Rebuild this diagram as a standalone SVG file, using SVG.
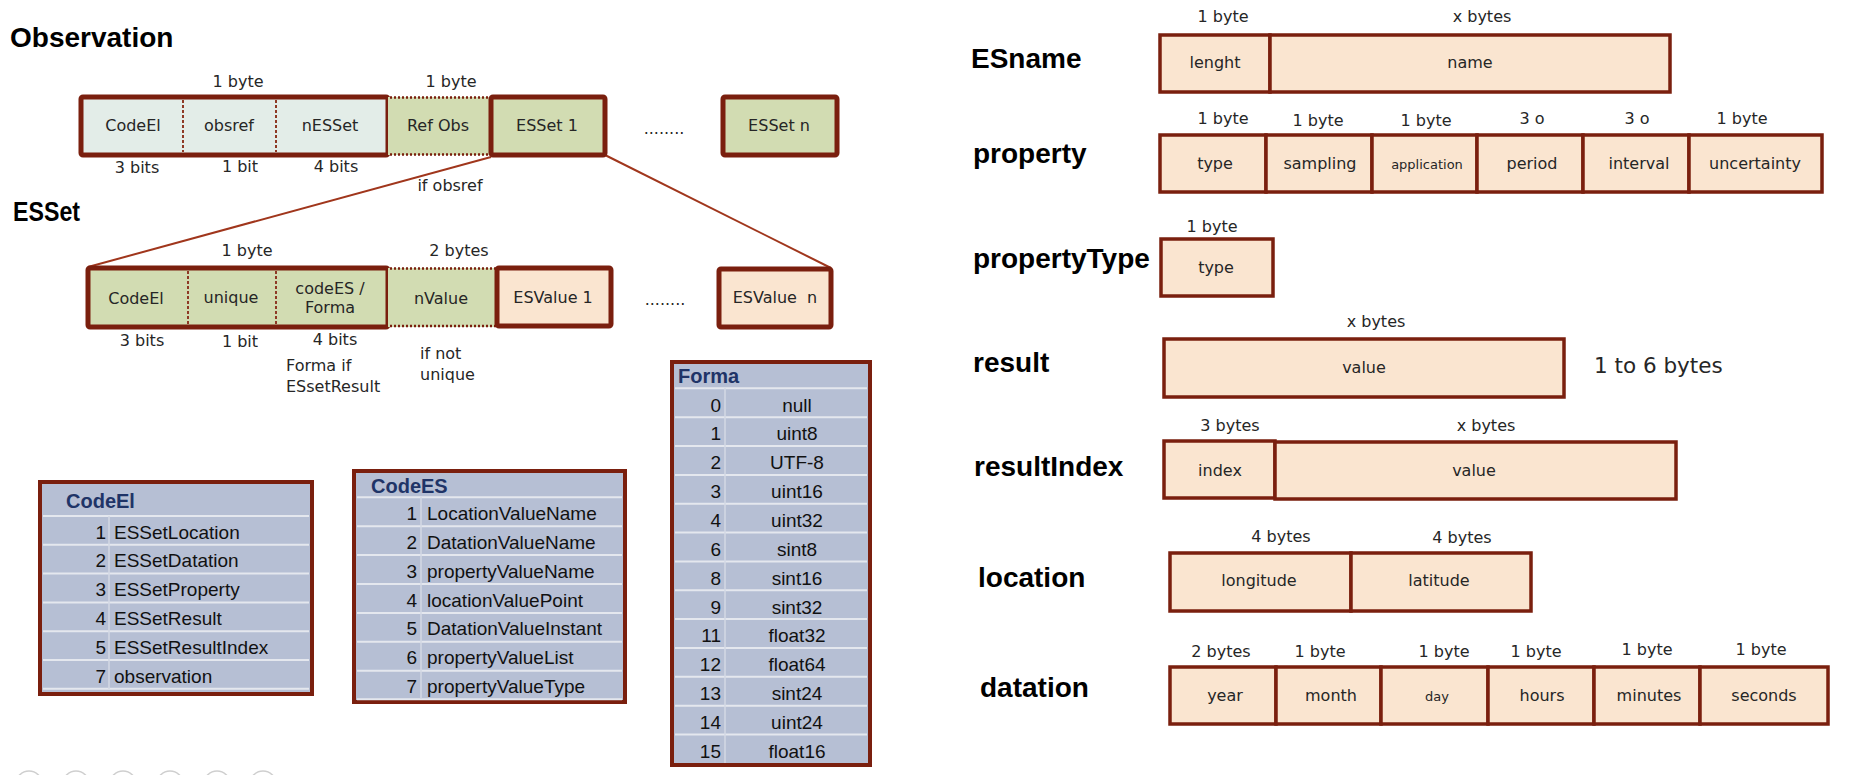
<svg xmlns="http://www.w3.org/2000/svg" width="1854" height="775" viewBox="0 0 1854 775">
<style>
  .t{font-family:"DejaVu Sans","Liberation Sans",sans-serif;font-size:16px;fill:#262626;text-anchor:middle}
  .ts{font-size:13px}
  .tl{text-anchor:start}
  .h{font-family:"Liberation Sans",Arial,sans-serif;font-weight:bold;font-size:28px;fill:#000}
  .thick{stroke:#7A1F0E;stroke-width:5;stroke-linejoin:round}
  .thin{stroke:#7A1F0E;stroke-width:3.5}
  .green{fill:#D2DCB2}
  .light{fill:#E3EDE8}
  .peach{fill:#FAE5D0}
  .dash{stroke:#8E3A26;stroke-width:2;stroke-dasharray:3 2}
  .dot{stroke:#7A1F0E;stroke-width:2.5;stroke-dasharray:2 2}
  .tab{fill:#B6BFD4;stroke:#7A1F0E;stroke-width:4}
  .rl{stroke:#E4E7EE;stroke-width:2}
  .cl{stroke:#D3D8E4;stroke-width:1.5}
  .tx{font-family:"Liberation Sans",Arial,sans-serif;font-size:19px;fill:#111}
  .num{text-anchor:end}
  .val{text-anchor:middle}
  .th{font-family:"Liberation Sans",Arial,sans-serif;font-size:20px;font-weight:bold;fill:#1F3467}
  .conn{stroke:#A0361C;stroke-width:2;fill:none}
  .nav{fill:#fff;stroke:#CFCFCF;stroke-width:1.5}
</style>

<!-- Titles -->
<g id="titles">
  <text class="h" x="10" y="47">Observation</text>
  <text class="h" x="13" y="221" textLength="67" lengthAdjust="spacingAndGlyphs">ESSet</text>
  <text class="h" x="971" y="68">ESname</text>
  <text class="h" x="973" y="163">property</text>
  <text class="h" x="973" y="268">propertyType</text>
  <text class="h" x="973" y="372">result</text>
  <text class="h" x="974" y="476">resultIndex</text>
  <text class="h" x="978" y="587">location</text>
  <text class="h" x="980" y="697">datation</text>
</g>

<!-- Connectors -->
<g id="connectors">
  <line class="conn" x1="491" y1="157" x2="88" y2="267"/>
  <line class="conn" x1="605" y1="155" x2="831" y2="268"/>
</g>

<!-- Observation row -->
<g id="obs-header">
  <rect class="light thick" x="81" y="97" width="307" height="58" rx="2"/>
  <line class="dash" x1="183" y1="100" x2="183" y2="152"/>
  <line class="dash" x1="276" y1="100" x2="276" y2="152"/>
  <text class="t" x="238" y="87">1 byte</text>
  <text class="t" x="133" y="131">CodeEl</text>
  <text class="t" x="229" y="131">obsref</text>
  <text class="t" x="330" y="131">nESSet</text>
  <text class="t" x="137" y="173">3 bits</text>
  <text class="t" x="240" y="172">1 bit</text>
  <text class="t" x="336" y="172">4 bits</text>
</g>
<g id="obs-refobs">
  <rect class="green" x="388" y="97" width="103" height="58"/>
  <line class="dot" x1="390" y1="97.5" x2="491" y2="97.5"/>
  <line class="dot" x1="390" y1="154.5" x2="491" y2="154.5"/>
  <text class="t" x="451" y="87">1 byte</text>
  <text class="t" x="438" y="131">Ref Obs</text>
  <text class="t" x="450" y="191">if obsref</text>
</g>
<g id="obs-esset1">
  <rect class="green thick" x="491" y="97" width="114" height="58" rx="2"/>
  <text class="t" x="547" y="131">ESSet 1</text>
</g>
<g id="obs-dots"><text class="t" x="664" y="134">........</text></g>
<g id="obs-essetn">
  <rect class="green thick" x="723" y="97" width="114" height="58" rx="2"/>
  <text class="t" x="779" y="131">ESSet n</text>
</g>

<!-- ESSet row -->
<g id="esset-header">
  <rect class="green thick" x="88" y="268" width="300" height="59" rx="2"/>
  <line class="dash" x1="188" y1="271" x2="188" y2="324"/>
  <line class="dash" x1="276" y1="271" x2="276" y2="324"/>
  <text class="t" x="247" y="256">1 byte</text>
  <text class="t" x="136" y="304">CodeEl</text>
  <text class="t" x="231" y="303">unique</text>
  <text class="t" x="330" y="294">codeES /</text>
  <text class="t" x="330" y="313">Forma</text>
  <text class="t" x="142" y="346">3 bits</text>
  <text class="t" x="240" y="347">1 bit</text>
  <text class="t" x="335" y="345">4 bits</text>
  <text class="t tl" x="286" y="371">Forma if</text>
  <text class="t tl" x="286" y="392">ESsetResult</text>
</g>
<g id="esset-nvalue">
  <rect class="green" x="388" y="268" width="109" height="59"/>
  <line class="dot" x1="390" y1="268.5" x2="497" y2="268.5"/>
  <line class="dot" x1="390" y1="326" x2="497" y2="326"/>
  <text class="t" x="459" y="256">2 bytes</text>
  <text class="t" x="441" y="304">nValue</text>
  <text class="t tl" x="420" y="359">if not</text>
  <text class="t tl" x="420" y="380">unique</text>
</g>
<g id="esset-esvalue1">
  <rect class="peach thick" x="497" y="268" width="114" height="58" rx="2"/>
  <text class="t" x="553" y="303">ESValue 1</text>
</g>
<g id="esset-dots"><text class="t" x="665" y="305">........</text></g>
<g id="esset-esvaluen">
  <rect class="peach thick" x="719" y="269" width="112" height="58" rx="2"/>
  <text class="t" x="775" y="303" xml:space="preserve">ESValue  n</text>
</g>

<!-- CodeEl table -->
<g id="table-codeel">
  <rect class="tab" x="40" y="482" width="272" height="212"/>
  <g class="rl">
    <line x1="43" y1="516" x2="309" y2="516"/>
    <line x1="43" y1="544.8" x2="309" y2="544.8"/>
    <line x1="43" y1="573.6" x2="309" y2="573.6"/>
    <line x1="43" y1="602.4" x2="309" y2="602.4"/>
    <line x1="43" y1="631.2" x2="309" y2="631.2"/>
    <line x1="43" y1="660" x2="309" y2="660"/>
    <line x1="43" y1="688.8" x2="309" y2="688.8"/>
  </g>
  <line class="cl" x1="109" y1="516" x2="109" y2="689"/>
  <text class="th" x="66" y="508">CodeEl</text>
  <g class="tx">
    <text class="num" x="106" y="538.5">1</text><text x="114" y="538.5">ESSetLocation</text>
    <text class="num" x="106" y="567.3">2</text><text x="114" y="567.3">ESSetDatation</text>
    <text class="num" x="106" y="596.1">3</text><text x="114" y="596.1">ESSetProperty</text>
    <text class="num" x="106" y="624.9">4</text><text x="114" y="624.9">ESSetResult</text>
    <text class="num" x="106" y="653.7">5</text><text x="114" y="653.7">ESSetResultIndex</text>
    <text class="num" x="106" y="682.5">7</text><text x="114" y="682.5">observation</text>
  </g>
</g>

<!-- CodeES table -->
<g id="table-codees">
  <rect class="tab" x="354" y="471" width="271" height="231"/>
  <g class="rl">
    <line x1="357" y1="497.3" x2="622" y2="497.3"/>
    <line x1="357" y1="526.2" x2="622" y2="526.2"/>
    <line x1="357" y1="555.1" x2="622" y2="555.1"/>
    <line x1="357" y1="584" x2="622" y2="584"/>
    <line x1="357" y1="612.9" x2="622" y2="612.9"/>
    <line x1="357" y1="641.8" x2="622" y2="641.8"/>
    <line x1="357" y1="670.7" x2="622" y2="670.7"/>
    <line x1="357" y1="699.3" x2="622" y2="699.3"/>
  </g>
  <line class="cl" x1="421" y1="497" x2="421" y2="699"/>
  <text class="th" x="371" y="493">CodeES</text>
  <g class="tx">
    <text class="num" x="417" y="519.8">1</text><text x="427" y="519.8">LocationValueName</text>
    <text class="num" x="417" y="548.7">2</text><text x="427" y="548.7">DatationValueName</text>
    <text class="num" x="417" y="577.6">3</text><text x="427" y="577.6">propertyValueName</text>
    <text class="num" x="417" y="606.5">4</text><text x="427" y="606.5">locationValuePoint</text>
    <text class="num" x="417" y="635.4">5</text><text x="427" y="635.4">DatationValueInstant</text>
    <text class="num" x="417" y="664.3">6</text><text x="427" y="664.3">propertyValueList</text>
    <text class="num" x="417" y="693.2">7</text><text x="427" y="693.2">propertyValueType</text>
  </g>
</g>

<!-- Forma table -->
<g id="table-forma">
  <rect class="tab" x="672" y="362" width="198" height="403"/>
  <g class="rl">
    <line x1="675" y1="388.3" x2="867" y2="388.3"/>
    <line x1="675" y1="417.2" x2="867" y2="417.2"/>
    <line x1="675" y1="446" x2="867" y2="446"/>
    <line x1="675" y1="474.9" x2="867" y2="474.9"/>
    <line x1="675" y1="503.7" x2="867" y2="503.7"/>
    <line x1="675" y1="532.6" x2="867" y2="532.6"/>
    <line x1="675" y1="561.4" x2="867" y2="561.4"/>
    <line x1="675" y1="590.3" x2="867" y2="590.3"/>
    <line x1="675" y1="619.1" x2="867" y2="619.1"/>
    <line x1="675" y1="648" x2="867" y2="648"/>
    <line x1="675" y1="676.8" x2="867" y2="676.8"/>
    <line x1="675" y1="705.7" x2="867" y2="705.7"/>
    <line x1="675" y1="734.5" x2="867" y2="734.5"/>
  </g>
  <line class="cl" x1="725" y1="388" x2="725" y2="763"/>
  <text class="th" x="678" y="383">Forma</text>
  <g class="tx">
    <text class="num" x="721" y="411.5">0</text><text class="val" x="797" y="411.5">null</text>
    <text class="num" x="721" y="440.4">1</text><text class="val" x="797" y="440.4">uint8</text>
    <text class="num" x="721" y="469.2">2</text><text class="val" x="797" y="469.2">UTF-8</text>
    <text class="num" x="721" y="498.1">3</text><text class="val" x="797" y="498.1">uint16</text>
    <text class="num" x="721" y="526.9">4</text><text class="val" x="797" y="526.9">uint32</text>
    <text class="num" x="721" y="555.8">6</text><text class="val" x="797" y="555.8">sint8</text>
    <text class="num" x="721" y="584.6">8</text><text class="val" x="797" y="584.6">sint16</text>
    <text class="num" x="721" y="613.5">9</text><text class="val" x="797" y="613.5">sint32</text>
    <text class="num" x="721" y="642.3">11</text><text class="val" x="797" y="642.3">float32</text>
    <text class="num" x="721" y="671.2">12</text><text class="val" x="797" y="671.2">float64</text>
    <text class="num" x="721" y="700">13</text><text class="val" x="797" y="700">sint24</text>
    <text class="num" x="721" y="728.9">14</text><text class="val" x="797" y="728.9">uint24</text>
    <text class="num" x="721" y="757.7">15</text><text class="val" x="797" y="757.7">float16</text>
  </g>
</g>

<!-- ESname -->
<g id="esname">
  <rect class="peach thin" x="1160" y="35" width="110" height="57"/>
  <rect class="peach thin" x="1270" y="35" width="400" height="57"/>
  <text class="t" x="1223" y="22">1 byte</text>
  <text class="t" x="1482" y="22">x bytes</text>
  <text class="t" x="1215" y="68">lenght</text>
  <text class="t" x="1470" y="68">name</text>
</g>

<!-- property -->
<g id="property">
  <rect class="peach thin" x="1160" y="135" width="106" height="57"/>
  <rect class="peach thin" x="1266" y="135" width="106" height="57"/>
  <rect class="peach thin" x="1372" y="135" width="105" height="57"/>
  <rect class="peach thin" x="1477" y="135" width="106" height="57"/>
  <rect class="peach thin" x="1583" y="135" width="106" height="57"/>
  <rect class="peach thin" x="1689" y="135" width="133" height="57"/>
  <text class="t" x="1223" y="124">1 byte</text>
  <text class="t" x="1318" y="126">1 byte</text>
  <text class="t" x="1426" y="126">1 byte</text>
  <text class="t" x="1532" y="124">3 o</text>
  <text class="t" x="1637" y="124">3 o</text>
  <text class="t" x="1742" y="124">1 byte</text>
  <text class="t" x="1215" y="169">type</text>
  <text class="t" x="1320" y="169">sampling</text>
  <text class="t ts" x="1427" y="169">application</text>
  <text class="t" x="1532" y="169">period</text>
  <text class="t" x="1639" y="169">interval</text>
  <text class="t" x="1755" y="169">uncertainty</text>
</g>

<!-- propertyType -->
<g id="propertyType">
  <rect class="peach thin" x="1161" y="239" width="112" height="57"/>
  <text class="t" x="1212" y="232">1 byte</text>
  <text class="t" x="1216" y="273">type</text>
</g>

<!-- result -->
<g id="result">
  <rect class="peach thin" x="1164" y="339" width="400" height="58"/>
  <text class="t" x="1376" y="327">x bytes</text>
  <text class="t" x="1364" y="373">value</text>
  <text class="t tl" x="1594" y="373" style="font-size:21.5px">1 to 6 bytes</text>
</g>

<!-- resultIndex -->
<g id="resultIndex">
  <rect class="peach thin" x="1164" y="441" width="111" height="57"/>
  <rect class="peach thin" x="1275" y="442" width="401" height="57"/>
  <text class="t" x="1230" y="431">3 bytes</text>
  <text class="t" x="1486" y="431">x bytes</text>
  <text class="t" x="1220" y="476">index</text>
  <text class="t" x="1474" y="476">value</text>
</g>

<!-- location -->
<g id="location">
  <rect class="peach thin" x="1170" y="553" width="181" height="58"/>
  <rect class="peach thin" x="1351" y="553" width="180" height="58"/>
  <text class="t" x="1281" y="542">4 bytes</text>
  <text class="t" x="1462" y="543">4 bytes</text>
  <text class="t" x="1259" y="586">longitude</text>
  <text class="t" x="1439" y="586">latitude</text>
</g>

<!-- datation -->
<g id="datation">
  <rect class="peach thin" x="1170" y="667" width="106" height="57"/>
  <rect class="peach thin" x="1276" y="667" width="105" height="57"/>
  <rect class="peach thin" x="1381" y="667" width="107" height="57"/>
  <rect class="peach thin" x="1488" y="667" width="106" height="57"/>
  <rect class="peach thin" x="1594" y="667" width="106" height="57"/>
  <rect class="peach thin" x="1700" y="667" width="128" height="57"/>
  <text class="t" x="1221" y="657">2 bytes</text>
  <text class="t" x="1320" y="657">1 byte</text>
  <text class="t" x="1444" y="657">1 byte</text>
  <text class="t" x="1536" y="657">1 byte</text>
  <text class="t" x="1647" y="655">1 byte</text>
  <text class="t" x="1761" y="655">1 byte</text>
  <text class="t" x="1225" y="701">year</text>
  <text class="t" x="1331" y="701">month</text>
  <text class="t ts" x="1437" y="701">day</text>
  <text class="t" x="1542" y="701">hours</text>
  <text class="t" x="1649" y="701">minutes</text>
  <text class="t" x="1764" y="701">seconds</text>
</g>

<!-- slide navigation circles (partly visible) -->
<g id="nav">
  <circle class="nav" cx="29" cy="784" r="13"/>
  <circle class="nav" cx="76" cy="784" r="13"/>
  <circle class="nav" cx="123" cy="784" r="13"/>
  <circle class="nav" cx="170" cy="784" r="13"/>
  <circle class="nav" cx="217" cy="784" r="13"/>
  <circle class="nav" cx="263" cy="784" r="13"/>
</g>
</svg>
